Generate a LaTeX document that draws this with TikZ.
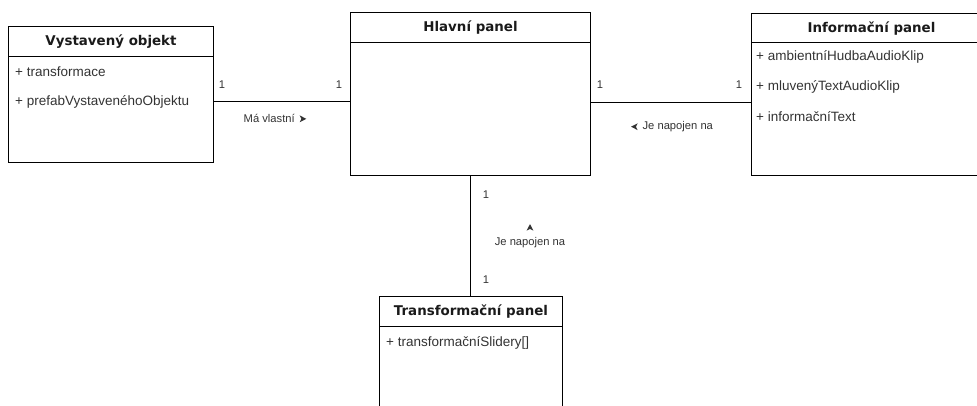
\documentclass[tikz,border=0pt]{standalone}
\usepackage{fontspec}
\setmainfont{Liberation Sans}
\newfontfamily\titlefont{DejaVu Sans}
\usepackage{tikz}
\usetikzlibrary{
    arrows.meta,
    positioning,
    calc
}
\definecolor{umltext}{HTML}{333333}
\definecolor{umltitle}{HTML}{1A1A1A}
\tikzset{
    classbox/.style = {draw, line width=1pt, rectangle, inner sep=0pt, anchor=north west},
    classtitle/.style = {inner sep=0pt, minimum height=30pt, text=umltitle,
      font=\titlefont\bfseries\fontsize{13.4}{16}\selectfont},
    member/.style = {anchor=west, inner sep=0pt, text=umltext,
      font=\fontsize{13.5}{16}\selectfont},
    mult/.style = {inner sep=0pt, text=umltext, font=\fontsize{11.2}{13}\selectfont},
    assoc/.style = {line width=1pt}
  }
% maly smerovy trojuhelnik u popisku asociace
\newcommand{\assocdir}[1]{\tikz[baseline=-3.2pt,x=1pt,y=1pt]\fill[umltext,rotate=#1] (3.4,0) -- (-3.2,3.4) -- (-1.5,0) -- (-3.2,-3.4) -- cycle;}

\begin{document}
\begin{tikzpicture}[x=1pt,y=-1pt]
				\useasboundingbox (0,0) rectangle (977,405);
				% tridy
				\node at (8,26) [classbox,minimum width=205pt,minimum height=136pt] (vo) {};
				\node at (350,12) [classbox,minimum width=240pt,minimum height=163pt] (hp) {};
				\node at (751,13) [classbox,minimum width=240pt,minimum height=162pt] (ip) {};
				\node at (379,296) [classbox,minimum width=183pt,minimum height=130pt] (tp) {};
				\node [classtitle,below=0pt of vo.north] {Vystavený objekt};
				\node [classtitle,below=0pt of hp.north] {Hlavní panel};
				\node [classtitle,below=0pt of ip.north] {Informační panel};
				\node [classtitle,below=0pt of tp.north] {Transformační panel};
				\draw[line width=1pt] ([yshift=-30pt]vo.north west) -- ([yshift=-30pt]vo.north east);
				\draw[line width=1pt] ([yshift=-30pt]hp.north west) -- ([yshift=-30pt]hp.north east);
				\draw[line width=1pt] ([yshift=-29pt]ip.north west) -- ([yshift=-29pt]ip.north east);
				\draw[line width=1pt] ([yshift=-30pt]tp.north west) -- ([yshift=-30pt]tp.north east);
				% atributy
				\node at ([shift={(7,46)}]vo.north west) [member] (vo1) {+ transformace};
				\node at ([shift={(7,76)}]vo.north west) [member] (vo2) {+ prefabVystavenéhoObjektu};
				\node at ([shift={(5,44)}]ip.north west) [member] (ip1) {+ ambientníHudbaAudioKlip};
				\node at ([shift={(5,74)}]ip.north west) [member] (ip2) {+ mluvenýTextAudioKlip};
				\node at ([shift={(5,104)}]ip.north west) [member] (ip3) {+ informačníText};
				\node at ([shift={(7,47)}]tp.north west) [member] (tp1) {+ transformačníSlidery[]};
				% asociace
				\draw[assoc] ([yshift=-7pt]vo.east) -- ([yshift=-7pt]vo.east -| hp.west);
				\draw[assoc] ([yshift=-8.5pt]hp.east) -- ([yshift=-8.5pt]hp.east -| ip.west);
				\draw[assoc] (hp.south) -- (hp.south |- tp.north);
				\node at (222,85) [mult] (m1) {1};
				\node at (339,85) [mult] (m2) {1};
				\node at (600,85) [mult] (m3) {1};
				\node at (739,85) [mult] (m4) {1};
				\node at (486,195) [mult] (m5) {1};
				\node at (486,280) [mult] (m6) {1};
				\node at (275,118) [mult] (l1) {Má vlastní\, \assocdir{0}};
				\node at (672,127) [mult] (l2) {\assocdir{180}\, Je napojen na};
				\node at (530,236) [mult,align=center] (l3) {\assocdir{90}\\[2pt]Je napojen na};
			\end{tikzpicture}
\end{document}
